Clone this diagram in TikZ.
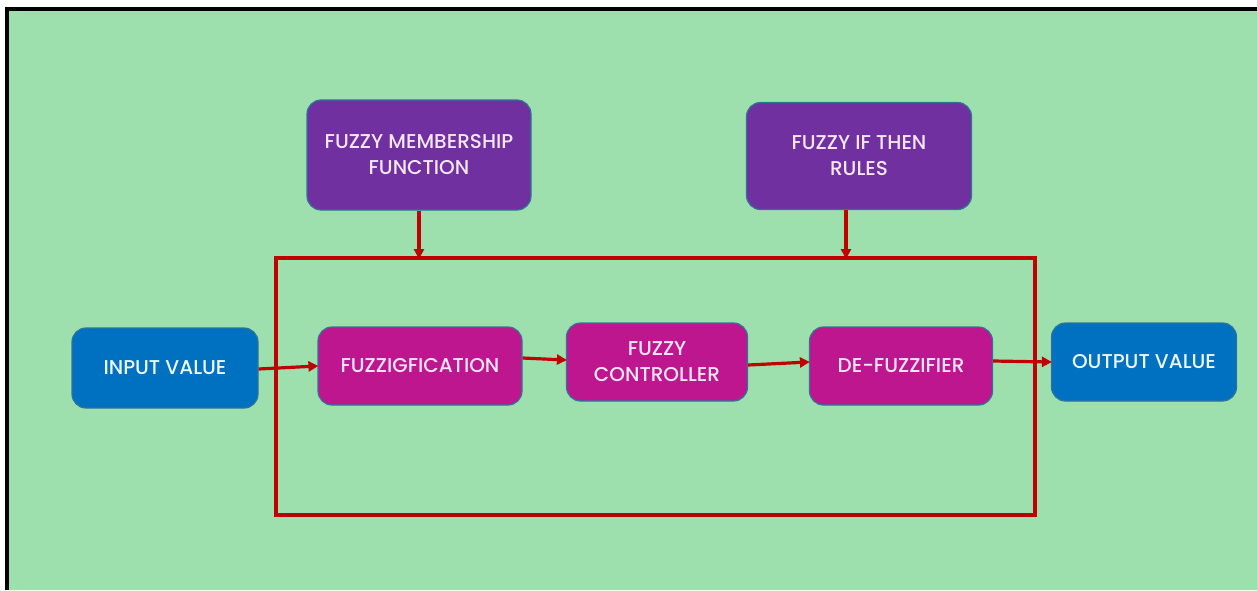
\documentclass[tikz,border=0pt]{standalone}
\usepackage{fontspec}
\setmainfont{Poppins Medium}
\usetikzlibrary{arrows.meta}
\definecolor{bggreen}{HTML}{9DE0AE}
\definecolor{fzpurple}{HTML}{7030A0}
\definecolor{fzmagenta}{HTML}{BE168E}
\definecolor{fzblue}{HTML}{0070C0}
\definecolor{fzred}{HTML}{C00000}
\definecolor{fzedge}{HTML}{2E7598}
\definecolor{fztext}{HTML}{F4E6F4}
\begin{document}
\begin{tikzpicture}[x=1pt,y=-1pt,
  box/.style={draw=fzedge, line width=1.2pt, rounded corners=14pt, text=fztext,
    align=center, inner sep=0pt, font=\fontsize{20}{26}\selectfont},
  purplebox/.style={box, fill=fzpurple},
  magentabox/.style={box, fill=fzmagenta},
  bluebox/.style={box, fill=fzblue, text=white!92!cyan},
  redline/.style={draw=fzred, line width=3.2pt},
  redarrow/.style={redline, -{Triangle[length=10pt,width=10pt]}, shorten >=-1pt}
]
\useasboundingbox (0,0) rectangle (1257,590);
\fill[white] (0,0) rectangle (1257,590);
\fill[bggreen] (7,9) rectangle (1257,590);
\draw[line width=4pt, black] (7,590) -- (7,9) -- (1257,9);

% nodes
\node[purplebox, minimum width=224pt, minimum height=110pt] (mf) at (419,155) {FUZZY MEMBERSHIP\\FUNCTION};
\node[purplebox, minimum width=225pt, minimum height=107pt] (rules) at (859,156) {FUZZY IF THEN\\RULES};
\node[bluebox, minimum width=186pt, minimum height=80pt] (in) at (165,368) {INPUT VALUE};
\node[magentabox, minimum width=204pt, minimum height=78pt] (fz) at (420,366) {FUZZIGFICATION};
\node[magentabox, minimum width=181pt, minimum height=78pt] (fc) at (657,362) {FUZZY\\CONTROLLER};
\node[magentabox, minimum width=183pt, minimum height=78pt] (dz) at (901,366) {DE-FUZZIFIER};
\node[bluebox, minimum width=185pt, minimum height=78pt] (out) at (1144,362) {OUTPUT VALUE};

% red frame
\node[redline, minimum width=759pt, minimum height=257pt, inner sep=0pt] (frame) at (655.5,386.5) {};
\coordinate (mfin) at (419,258);
\coordinate (rulesin) at (846,258);

% connectors
\draw[redarrow] (mf.south) -- (mfin);
\draw[redarrow] (rules.south -| rulesin) -- (rulesin);
\draw[redarrow] ([yshift=-1pt]in.east) -- (fz.west);
\draw[redarrow] ([yshift=8pt]fz.east) -- ([yshift=2pt]fc.west);
\draw[redarrow] ([yshift=-3pt]fc.east) -- ([yshift=4pt]dz.west);
\draw[redarrow] ([yshift=5pt]dz.east) -- ([yshift=0pt]out.west);
\end{tikzpicture}
\end{document}
